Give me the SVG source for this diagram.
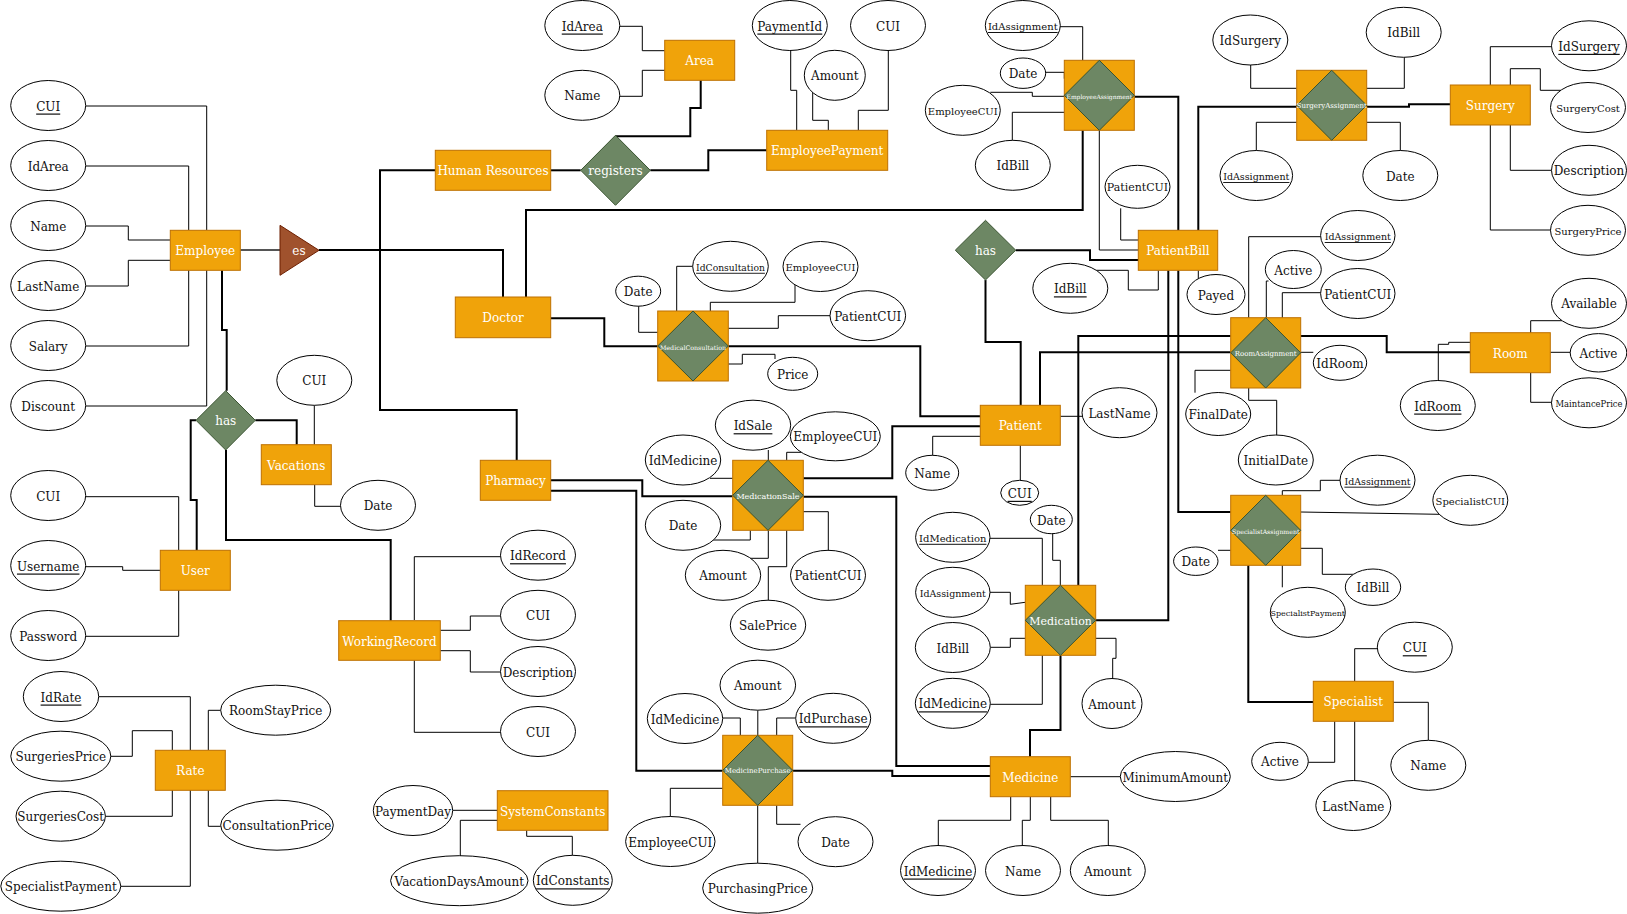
<svg xmlns="http://www.w3.org/2000/svg" width="1627" height="914" viewBox="0 0 1627 914">
<style>
  .e{fill:#fff;stroke:#000;stroke-width:1}
  .ent{fill:#f0a30a;stroke:#BD7000;stroke-width:1}
  .rel{fill:#6d8764;stroke:#3A5431;stroke-width:1}
  .isa{fill:#a0522d;stroke:#6D1F00;stroke-width:1}
  .t{font-family:"DejaVu Serif","Liberation Serif",serif;font-size:12px;text-anchor:middle;dominant-baseline:central;fill:#111;transform:translate(0px,1px)}
  .w{fill:#fff}
  .u{text-decoration:underline}
  .s11{font-size:11px}.s10{font-size:10px}.s9{font-size:9.5px}.s8{font-size:8px}.s7{font-size:7px}.s6{font-size:6px}
  .thin{fill:none;stroke:#000;stroke-width:1}
  .thick{fill:none;stroke:#000;stroke-width:2}
  .grey{fill:none;stroke:#555;stroke-width:2}
</style>
<rect width="1627" height="914" fill="#fff"/>

<g id="connectors">
  <!-- attribute links -->
  <g class="thin">
    <path d="M85.7,106 H206.7 V230"/>
    <path d="M85.7,166 H188.7 V230"/>
    <path d="M85.7,226 H128.3 V240 H170"/>
    <path d="M85.7,286 H128.3 V260.3 H170"/>
    <path d="M85.7,346 H188.7 V270"/>
    <path d="M85.7,406 H206.7 V270"/>
    <path d="M85.7,496.7 H178.7 V550"/>
    <path d="M85.7,566.7 H122.7 V570.3 H160.3"/>
    <path d="M85.7,636.3 H178.7 V590"/>
    <path d="M314.3,405.3 V444.7"/>
    <path d="M314.7,484.7 V506.3 H340.7"/>
    <path d="M500.7,556.7 H414.3 V620"/>
    <path d="M440.3,630.3 H470.3 V616 H500.7"/>
    <path d="M440.3,650.7 H470.3 V672 H500.7"/>
    <path d="M414.3,660.3 V732.3 H500.7"/>
    <path d="M98.7,696.7 H190.3 V750"/>
    <path d="M110.7,756.3 H132.3 V730.7 H172.3 V750"/>
    <path d="M105.3,816.3 H172.3 V790"/>
    <path d="M120.7,886.3 H190.3 V790"/>
    <path d="M208.3,750 V710.3 H220.7"/>
    <path d="M208.3,790 V826.3 H220.7"/>
    <path d="M452.7,810.3 H497.3"/>
    <path d="M497.3,820.3 H460.3 V856"/>
    <path d="M526.7,830.3 V836.3 H572.3 V855.3"/>
    <path d="M620,26.3 H642.3 V50.7 H664.7"/>
    <path d="M620,96.3 H642.3 V70.3 H664.7"/>
    <path d="M790.7,50.3 V90.3 H796.7 V130.3"/>
    <path d="M812.7,90 V120.3 H828.3 V130.3"/>
    <path d="M888.3,50.3 V110.3 H858.3 V130.3"/>
    <path d="M1060,26.7 H1082.7 V60.3"/>
    <path d="M1045.7,72.3 H1064.3 V78.7"/>
    <path d="M990.3,92.3 H1032.3 V96.3 H1064.3"/>
    <path d="M1012.3,140.3 V112.3 H1064.3"/>
    <path d="M638.7,306 V332.3 H657.7"/>
    <path d="M692.7,266.3 H676.7 V311"/>
    <path d="M795,285 V302.3 H710.3 V311"/>
    <path d="M830,315.7 H778.3 V328.3 H728.3"/>
    <path d="M728.3,364 H742.3 V354.3 H775 V359"/>
    <path d="M768.3,450 V460.3"/>
    <path d="M710,478.3 H732.7"/>
    <path d="M801,452.3 H786.7 V460.3"/>
    <path d="M713.3,540 H750.3 V530.3"/>
    <path d="M750,558.3 H768.3 V530.3"/>
    <path d="M803.3,511.7 H828.3 V550.7"/>
    <path d="M786.7,530.3 V566.7 H768.3 V600"/>
    <path d="M757.8,710.3 V735.3"/>
    <path d="M722.7,718 H740.3 V735.3"/>
    <path d="M795.7,718 H776.7 V735.3"/>
    <path d="M670.3,816.7 V788.3 H722.7"/>
    <path d="M757.7,805.3 V863.3"/>
    <path d="M776.7,805.3 V824.3 H800.5"/>
    <path d="M1060.3,416.3 H1082"/>
    <path d="M932.7,455.3 V436.3 H980.3"/>
    <path d="M1020.3,445.3 V480.3"/>
    <path d="M1052.7,533.7 V560.3 H1060.3 V585.3"/>
    <path d="M990,538.3 H1042.3 V585.3"/>
    <path d="M990,592.3 H1010.3 V604.3 L1025.3,602.3"/>
    <path d="M990.3,647.3 H1010.3 V638.3 H1025.3"/>
    <path d="M990.3,704.3 H1042.3 V655.3"/>
    <path d="M1112.7,678.7 V658.3 H1116 V638.3 H1095.7"/>
    <path d="M1070.3,776.7 H1120.7"/>
    <path d="M1010.7,796.7 V820.3 H938.3 V845.7"/>
    <path d="M1030.3,796.7 V820.3 H1022.3 V845.7"/>
    <path d="M1050.7,796.7 V820.3 H1108.3 V845.7"/>
    <path d="M1120.7,208.3 V240 H1138.3"/>
    <path d="M1099.3,130.3 V250 H1138.3"/>
    <path d="M1096.3,270.3 H1128.3 V290 H1158.3 V270.3"/>
    <path d="M1198.3,270.3 V278.7"/>
    <path d="M1250.7,65 V88.3 H1296.7"/>
    <path d="M1404.3,57.3 V88.3 H1366.7"/>
    <path d="M1256.3,150.7 V122.3 H1296.7"/>
    <path d="M1400.3,150.7 V122.3 H1366.7"/>
    <path d="M1490.3,85 V46.7 H1551"/>
    <path d="M1510.3,85 V68.7 H1540.3 V90.3 H1561"/>
    <path d="M1510.3,125 V170.3 H1551"/>
    <path d="M1490.3,125 V230 H1551"/>
    <path d="M1320.7,236.7 H1248.7 V318"/>
    <path d="M1268.5,281 H1266.3 V318"/>
    <path d="M1320.7,292.7 H1282.3 V318"/>
    <path d="M1300.7,352.3 H1313.3"/>
    <path d="M1195,392.7 V370.3 H1230.7"/>
    <path d="M1276.7,435 V400.3 H1248.7 V388"/>
    <path d="M1438.3,380.7 V344.3 H1448.7 V342.3 H1470.3"/>
    <path d="M1530.7,333 V320.7 H1562"/>
    <path d="M1550.3,352.3 H1570.3"/>
    <path d="M1530.7,372.7 V402.3 H1551.7"/>
    <path d="M1282.3,495.3 V490.7 H1320.3 V480.3 H1340"/>
    <path d="M1300.7,512 L1439,514.3"/>
    <path d="M1300.7,548.3 H1322.3 V574.3 H1353.5"/>
    <path d="M1218,550.3 H1230.7"/>
    <path d="M1282.3,565.3 V587.3"/>
    <path d="M1354.7,681.3 V648.7 H1377.3"/>
    <path d="M1308.3,762.3 H1334.7 V721.3"/>
    <path d="M1354.7,721.3 V780.7"/>
    <path d="M1393.3,702.3 H1428.3 V740.3"/>
  </g>
  <!-- relationship links -->
  <path class="grey" d="M240.3,250 H280"/>
  <g class="thick">
    <path d="M319,250 H503 V297"/>
    <path d="M435.3,170.3 H380 V410 H516.7 V460.3"/>
    <path d="M550.7,170.3 H580.7"/>
    <path d="M650.3,170.3 H708.3 V150.3 H766.7"/>
    <path d="M700.7,80.3 V108 H690.3 V136.3 H615.5"/>
    <path d="M222,270.3 V330 H226.7 V390.7"/>
    <path d="M255.3,420.3 H296.7 V444.7"/>
    <path d="M196,420.3 H190.7 V500 H196.7 V550.3"/>
    <path d="M226,450 V540 H390.7 V620.7"/>
    <path d="M550.7,318.3 H604.3 V346.3 H657.7"/>
    <path d="M728.3,346.3 H920.3 V416.3 H980.3"/>
    <path d="M1082.7,130.3 V210 H526 V297"/>
    <path d="M1134.3,96.7 H1178.3 V230.3"/>
    <path d="M1296.7,106.7 H1198.3 V230.3"/>
    <path d="M1366.7,106.7 H1409 V104.3 H1450.3"/>
    <path d="M1015.7,250.2 H1090 V260 H1138.3"/>
    <path d="M985.5,280 V342 H1020.7 V405.3"/>
    <path d="M1040,405.3 V352.3 H1230.7"/>
    <path d="M1078.3,585.3 V336 H1230.7"/>
    <path d="M1300.7,336 H1386.7 V352.3 H1470.3"/>
    <path d="M1178.3,270.3 V512 H1230.7"/>
    <path d="M1248.3,565.3 V702 H1313.3"/>
    <path d="M1168.3,270.3 V620.3 H1095.7"/>
    <path d="M1060.5,655.3 V730 H1030 V756.7"/>
    <path d="M550.7,480.3 H642.3 V496.3 H732.7"/>
    <path d="M803.3,496.7 H896.3 V766 H990.3"/>
    <path d="M803.3,478.3 H892.3 V426.3 H980.3"/>
    <path d="M550.7,490.7 H636.3 V770.7 H722.7"/>
    <path d="M792.7,770.7 H892.3 V776 H990.3"/>
  </g>
</g>

<!-- entities -->
<g id="employee"><rect class="ent" x="170.3" y="230.3" width="70" height="40"/><text class="t w" x="205.3" y="250.3">Employee</text></g>
<g id="human-resources"><rect class="ent" x="435.3" y="150.3" width="115.4" height="40"/><text class="t w" x="493" y="170.3">Human Resources</text></g>
<g id="area"><rect class="ent" x="664.7" y="40.3" width="70" height="40"/><text class="t w" x="699.7" y="60.3">Area</text></g>
<g id="employee-payment"><rect class="ent" x="766.7" y="130.3" width="121" height="40"/><text class="t w" x="827.2" y="150.3">EmployeePayment</text></g>
<g id="doctor"><rect class="ent" x="455.3" y="297" width="95.4" height="40.7"/><text class="t w" x="503" y="317.3">Doctor</text></g>
<g id="pharmacy"><rect class="ent" x="480.3" y="460.3" width="70.4" height="40"/><text class="t w" x="515.5" y="480.3">Pharmacy</text></g>
<g id="vacations"><rect class="ent" x="261.3" y="444.7" width="70" height="40"/><text class="t w" x="296.3" y="464.7">Vacations</text></g>
<g id="user"><rect class="ent" x="160.3" y="550.3" width="70" height="40"/><text class="t w" x="195.3" y="570.3">User</text></g>
<g id="working-record"><rect class="ent" x="338.7" y="620.7" width="101.6" height="39.6"/><text class="t w" x="389.5" y="640.5">WorkingRecord</text></g>
<g id="rate"><rect class="ent" x="155.3" y="750.3" width="70" height="40"/><text class="t w" x="190.3" y="770.3">Rate</text></g>
<g id="system-constants"><rect class="ent" x="497.3" y="790.7" width="110.7" height="39.6"/><text class="t w" x="552.7" y="810.5">SystemConstants</text></g>
<g id="patient"><rect class="ent" x="980.3" y="405.3" width="80" height="40"/><text class="t w" x="1020.3" y="425.3">Patient</text></g>
<g id="patient-bill"><rect class="ent" x="1138.3" y="230.3" width="79.4" height="40"/><text class="t w" x="1178" y="250.3">PatientBill</text></g>
<g id="surgery"><rect class="ent" x="1450.3" y="85" width="80" height="40"/><text class="t w" x="1490.3" y="105">Surgery</text></g>
<g id="room"><rect class="ent" x="1470.3" y="332.7" width="80" height="40"/><text class="t w" x="1510.3" y="352.7">Room</text></g>
<g id="medicine"><rect class="ent" x="990.3" y="756.7" width="80" height="40"/><text class="t w" x="1030.3" y="776.7">Medicine</text></g>
<g id="specialist"><rect class="ent" x="1313.3" y="681.3" width="80" height="40"/><text class="t w" x="1353.3" y="701.3">Specialist</text></g>

<!-- associative entities -->
<g id="employee-assignment"><rect class="ent" x="1064.3" y="60.3" width="70" height="70"/><polygon class="rel" points="1099.3,60.3 1134.3,95.3 1099.3,130.3 1064.3,95.3"/><text class="t w s6" x="1099.3" y="95.3">EmployeeAssignment</text></g>
<g id="surgery-assignment"><rect class="ent" x="1296.7" y="70.3" width="70" height="70"/><polygon class="rel" points="1331.7,70.3 1366.7,105.3 1331.7,140.3 1296.7,105.3"/><text class="t w s7" x="1331.7" y="105.3">SurgeryAssignment</text></g>
<g id="medical-consultation"><rect class="ent" x="657.7" y="311" width="70.6" height="70"/><polygon class="rel" points="693,311 728.3,346 693,381 657.7,346"/><text class="t w" style="font-size:6.3px" x="693" y="346">MedicalConsultation</text></g>
<g id="medication-sale"><rect class="ent" x="732.7" y="460.3" width="70.6" height="70"/><polygon class="rel" points="768,460.3 803.3,495.3 768,530.3 732.7,495.3"/><text class="t w s8" x="768" y="495.3">MedicationSale</text></g>
<g id="room-assignment"><rect class="ent" x="1230.7" y="317.7" width="70" height="70.3"/><polygon class="rel" points="1265.7,317.7 1300.7,352.8 1265.7,388 1230.7,352.8"/><text class="t w s7" x="1265.7" y="352.8">RoomAssignment</text></g>
<g id="specialist-assignment"><rect class="ent" x="1230.7" y="495.3" width="70" height="70"/><polygon class="rel" points="1265.7,495.3 1300.7,530.3 1265.7,565.3 1230.7,530.3"/><text class="t w" style="font-size:6.2px" x="1265.7" y="530.3">SpecialistAssignment</text></g>
<g id="medication"><rect class="ent" x="1025.3" y="585.3" width="70.4" height="70"/><polygon class="rel" points="1060.5,585.3 1095.7,620.3 1060.5,655.3 1025.3,620.3"/><text class="t w s11" x="1060.5" y="620.3">Medication</text></g>
<g id="medicine-purchase"><rect class="ent" x="722.7" y="735.3" width="70" height="70"/><polygon class="rel" points="757.7,735.3 792.7,770.3 757.7,805.3 722.7,770.3"/><text class="t w s7" x="757.7" y="770.3">MedicinePurchase</text></g>

<!-- relationships -->
<g id="es"><polygon class="isa" points="280,225.3 280,275.3 319,250.3"/><text class="t w" x="299" y="250.3">es</text></g>
<g id="registers"><polygon class="rel" points="615.5,135.3 650.3,170.3 615.5,205.3 580.7,170.3"/><text class="t w" x="615.5" y="170.3">registers</text></g>
<g id="has-vacations"><polygon class="rel" points="225.7,390.7 255.3,420.3 225.7,450 196,420.3"/><text class="t w" x="225.7" y="420.3">has</text></g>
<g id="has-bill"><polygon class="rel" points="985.5,220.3 1015.7,250.2 985.5,280 955.3,250.2"/><text class="t w" x="985.5" y="250.2">has</text></g>

<!-- employee attributes -->
<g id="emp-cui"><ellipse class="e" cx="48.2" cy="105.5" rx="37.5" ry="25"/><text class="t u" x="48.2" y="105.5">CUI</text></g>
<g id="emp-idarea"><ellipse class="e" cx="48.2" cy="165.5" rx="37.5" ry="25"/><text class="t" x="48.2" y="165.5">IdArea</text></g>
<g id="emp-name"><ellipse class="e" cx="48.2" cy="225.5" rx="37.5" ry="25"/><text class="t" x="48.2" y="225.5">Name</text></g>
<g id="emp-lastname"><ellipse class="e" cx="48.2" cy="285.5" rx="37.5" ry="25"/><text class="t" x="48.2" y="285.5">LastName</text></g>
<g id="emp-salary"><ellipse class="e" cx="48.2" cy="345.5" rx="37.5" ry="25"/><text class="t" x="48.2" y="345.5">Salary</text></g>
<g id="emp-discount"><ellipse class="e" cx="48.2" cy="405.5" rx="37.5" ry="25"/><text class="t" x="48.2" y="405.5">Discount</text></g>

<!-- user attributes -->
<g id="user-cui"><ellipse class="e" cx="48.2" cy="495.5" rx="37.5" ry="25"/><text class="t" x="48.2" y="495.5">CUI</text></g>
<g id="user-username"><ellipse class="e" cx="48.2" cy="565.5" rx="37.5" ry="25"/><text class="t u" x="48.2" y="565.5">Username</text></g>
<g id="user-password"><ellipse class="e" cx="48.2" cy="635.5" rx="37.5" ry="25"/><text class="t" x="48.2" y="635.5">Password</text></g>

<!-- rate attributes -->
<g id="rate-id"><ellipse class="e" cx="61" cy="696.5" rx="37.7" ry="25"/><text class="t u" x="61" y="696.5">IdRate</text></g>
<g id="rate-surgeries-price"><ellipse class="e" cx="60.8" cy="756.2" rx="50" ry="25"/><text class="t" x="60.8" y="756.2">SurgeriesPrice</text></g>
<g id="rate-surgeries-cost"><ellipse class="e" cx="60.7" cy="816.2" rx="44.7" ry="25"/><text class="t" x="60.7" y="816.2">SurgeriesCost</text></g>
<g id="rate-specialist-payment"><ellipse class="e" cx="60.8" cy="886.2" rx="60" ry="25"/><text class="t" x="60.8" y="886.2">SpecialistPayment</text></g>
<g id="rate-room-stay"><ellipse class="e" cx="275.7" cy="710.2" rx="55" ry="25"/><text class="t" x="275.7" y="710.2">RoomStayPrice</text></g>
<g id="rate-consultation"><ellipse class="e" cx="277" cy="825.2" rx="56.3" ry="25"/><text class="t" x="277" y="825.2">ConsultationPrice</text></g>

<!-- vacations attributes -->
<g id="vac-cui"><ellipse class="e" cx="314.3" cy="380.3" rx="37.5" ry="25"/><text class="t" x="314.3" y="380.3">CUI</text></g>
<g id="vac-date"><ellipse class="e" cx="378" cy="505.3" rx="37.5" ry="25"/><text class="t" x="378" y="505.3">Date</text></g>

<!-- working record attributes -->
<g id="wr-id"><ellipse class="e" cx="538" cy="555.2" rx="37.5" ry="25"/><text class="t u" x="538" y="555.2">IdRecord</text></g>
<g id="wr-cui1"><ellipse class="e" cx="538" cy="615.3" rx="37.5" ry="25"/><text class="t" x="538" y="615.3">CUI</text></g>
<g id="wr-description"><ellipse class="e" cx="538" cy="671.5" rx="37.5" ry="25"/><text class="t" x="538" y="671.5">Description</text></g>
<g id="wr-cui2"><ellipse class="e" cx="538" cy="731.5" rx="37.5" ry="25"/><text class="t" x="538" y="731.5">CUI</text></g>

<!-- system constants attributes -->
<g id="sc-payment-day"><ellipse class="e" cx="413" cy="810.5" rx="39.7" ry="25"/><text class="t" x="413" y="810.5">PaymentDay</text></g>
<g id="sc-vacation-days"><ellipse class="e" cx="459.3" cy="880.7" rx="68.7" ry="25"/><text class="t" x="459.3" y="880.7">VacationDaysAmount</text></g>
<g id="sc-id"><ellipse class="e" cx="572.8" cy="880.3" rx="39.5" ry="25"/><text class="t u" x="572.8" y="880.3">IdConstants</text></g>

<!-- area attributes -->
<g id="area-id"><ellipse class="e" cx="582.3" cy="25.5" rx="37.5" ry="25"/><text class="t u" x="582.3" y="25.5">IdArea</text></g>
<g id="area-name"><ellipse class="e" cx="582.3" cy="95.3" rx="37.5" ry="25"/><text class="t" x="582.3" y="95.3">Name</text></g>

<!-- employee payment attributes -->
<g id="ep-id"><ellipse class="e" cx="789.8" cy="25.5" rx="37.5" ry="25"/><text class="t u" x="789.8" y="25.5">PaymentId</text></g>
<g id="ep-amount"><ellipse class="e" cx="834.8" cy="75.3" rx="30.5" ry="25"/><text class="t" x="834.8" y="75.3">Amount</text></g>
<g id="ep-cui"><ellipse class="e" cx="888" cy="25.5" rx="37.5" ry="25"/><text class="t" x="888" y="25.5">CUI</text></g>

<!-- employee assignment attributes -->
<g id="ea-id"><ellipse class="e" cx="1022.8" cy="25.5" rx="37.5" ry="25"/><text class="t u s10" x="1022.8" y="25.5">IdAssignment</text></g>
<g id="ea-date"><ellipse class="e" cx="1023" cy="73.2" rx="22.7" ry="15.2"/><text class="t" x="1023" y="73.2">Date</text></g>
<g id="ea-employee-cui"><ellipse class="e" cx="962.8" cy="110.3" rx="37.5" ry="25"/><text class="t s10" x="962.8" y="110.3">EmployeeCUI</text></g>
<g id="ea-bill"><ellipse class="e" cx="1012.8" cy="165.3" rx="37.5" ry="25"/><text class="t" x="1012.8" y="165.3">IdBill</text></g>

<!-- medical consultation attributes -->
<g id="mc-date"><ellipse class="e" cx="638.2" cy="291.2" rx="22.5" ry="15"/><text class="t" x="638.2" y="291.2">Date</text></g>
<g id="mc-id"><ellipse class="e" cx="730.5" cy="266.3" rx="37.8" ry="25"/><text class="t u" style="font-size:9.2px" x="730.5" y="266.3">IdConsultation</text></g>
<g id="mc-employee-cui"><ellipse class="e" cx="820.5" cy="266.5" rx="37.5" ry="25"/><text class="t s10" x="820.5" y="266.5">EmployeeCUI</text></g>
<g id="mc-patient-cui"><ellipse class="e" cx="867.8" cy="315.7" rx="37.8" ry="25"/><text class="t" x="867.8" y="315.7">PatientCUI</text></g>
<g id="mc-price"><ellipse class="e" cx="792.7" cy="373.8" rx="25" ry="16.5"/><text class="t" x="792.7" y="373.8">Price</text></g>

<!-- medication sale attributes -->
<g id="ms-id"><ellipse class="e" cx="753" cy="425.2" rx="37.7" ry="25"/><text class="t u" x="753" y="425.2">IdSale</text></g>
<g id="ms-medicine"><ellipse class="e" cx="683" cy="460" rx="37.7" ry="25"/><text class="t" x="683" y="460">IdMedicine</text></g>
<g id="ms-employee-cui"><ellipse class="e" cx="835.3" cy="436.3" rx="45" ry="24.5"/><text class="t" x="835.3" y="436.3">EmployeeCUI</text></g>
<g id="ms-date"><ellipse class="e" cx="683" cy="525.3" rx="37.7" ry="25"/><text class="t" x="683" y="525.3">Date</text></g>
<g id="ms-amount"><ellipse class="e" cx="723" cy="575.3" rx="37.7" ry="25"/><text class="t" x="723" y="575.3">Amount</text></g>
<g id="ms-patient-cui"><ellipse class="e" cx="828" cy="575.3" rx="37.5" ry="25"/><text class="t" x="828" y="575.3">PatientCUI</text></g>
<g id="ms-sale-price"><ellipse class="e" cx="768" cy="625.2" rx="37.7" ry="25"/><text class="t" x="768" y="625.2">SalePrice</text></g>

<!-- medicine purchase attributes -->
<g id="mp-amount"><ellipse class="e" cx="757.8" cy="685.2" rx="37.8" ry="25"/><text class="t" x="757.8" y="685.2">Amount</text></g>
<g id="mp-medicine"><ellipse class="e" cx="685" cy="718.5" rx="37.7" ry="25"/><text class="t" x="685" y="718.5">IdMedicine</text></g>
<g id="mp-id"><ellipse class="e" cx="833.2" cy="718.3" rx="37.5" ry="25"/><text class="t u" x="833.2" y="718.3">IdPurchase</text></g>
<g id="mp-employee-cui"><ellipse class="e" cx="670.3" cy="841.5" rx="44.7" ry="25"/><text class="t" x="670.3" y="841.5">EmployeeCUI</text></g>
<g id="mp-purchasing-price"><ellipse class="e" cx="757.7" cy="888.2" rx="55" ry="25"/><text class="t" x="757.7" y="888.2">PurchasingPrice</text></g>
<g id="mp-date"><ellipse class="e" cx="835.5" cy="841.7" rx="37.5" ry="25"/><text class="t" x="835.5" y="841.7">Date</text></g>

<!-- patient attributes -->
<g id="patient-lastname"><ellipse class="e" cx="1119.5" cy="412.7" rx="37.5" ry="25"/><text class="t" x="1119.5" y="412.7">LastName</text></g>
<g id="patient-name"><ellipse class="e" cx="932.2" cy="472.8" rx="26.5" ry="17.5"/><text class="t" x="932.2" y="472.8">Name</text></g>
<g id="patient-cui"><ellipse class="e" cx="1019.7" cy="492.8" rx="19" ry="12.5"/><text class="t u" x="1019.7" y="492.8">CUI</text></g>

<!-- medication attributes -->
<g id="med-date"><ellipse class="e" cx="1051.3" cy="519.5" rx="21" ry="14.2"/><text class="t" x="1051.3" y="519.5">Date</text></g>
<g id="med-id"><ellipse class="e" cx="952.8" cy="537.3" rx="37.2" ry="25"/><text class="t u s10" x="952.8" y="537.3">IdMedication</text></g>
<g id="med-assignment"><ellipse class="e" cx="952.8" cy="592.3" rx="37.2" ry="25"/><text class="t s9" x="952.8" y="592.3">IdAssignment</text></g>
<g id="med-bill"><ellipse class="e" cx="952.8" cy="647.5" rx="37.5" ry="25"/><text class="t" x="952.8" y="647.5">IdBill</text></g>
<g id="med-medicine"><ellipse class="e" cx="952.8" cy="703.3" rx="37.5" ry="25"/><text class="t u" x="952.8" y="703.3">IdMedicine</text></g>
<g id="med-amount"><ellipse class="e" cx="1112" cy="703.5" rx="30" ry="25"/><text class="t" x="1112" y="703.5">Amount</text></g>

<!-- medicine attributes -->
<g id="medicine-minimum"><ellipse class="e" cx="1175.3" cy="776.5" rx="55" ry="25"/><text class="t" x="1175.3" y="776.5">MinimumAmount</text></g>
<g id="medicine-id"><ellipse class="e" cx="938" cy="870.5" rx="37.5" ry="25"/><text class="t u" x="938" y="870.5">IdMedicine</text></g>
<g id="medicine-name"><ellipse class="e" cx="1023" cy="870.5" rx="37.5" ry="25"/><text class="t" x="1023" y="870.5">Name</text></g>
<g id="medicine-amount"><ellipse class="e" cx="1107.8" cy="870.5" rx="37.5" ry="25"/><text class="t" x="1107.8" y="870.5">Amount</text></g>

<!-- patient bill attributes -->
<g id="pb-patient-cui"><ellipse class="e" cx="1137.5" cy="186.8" rx="32.5" ry="21.5"/><text class="t s11" x="1137.5" y="186.8">PatientCUI</text></g>
<g id="pb-id"><ellipse class="e" cx="1070.3" cy="288.3" rx="37.5" ry="25"/><text class="t u" x="1070.3" y="288.3">IdBill</text></g>
<g id="pb-payed"><ellipse class="e" cx="1216" cy="294.5" rx="29" ry="20"/><text class="t" x="1216" y="294.5">Payed</text></g>

<!-- surgery assignment attributes -->
<g id="sa-surgery"><ellipse class="e" cx="1250.3" cy="40" rx="37.5" ry="25"/><text class="t" x="1250.3" y="40">IdSurgery</text></g>
<g id="sa-bill"><ellipse class="e" cx="1403.7" cy="32.3" rx="37.5" ry="25"/><text class="t" x="1403.7" y="32.3">IdBill</text></g>
<g id="sa-id"><ellipse class="e" cx="1256.3" cy="175.5" rx="36.3" ry="25"/><text class="t u s9" x="1256.3" y="175.5">IdAssignment</text></g>
<g id="sa-date"><ellipse class="e" cx="1400.3" cy="175.5" rx="37.5" ry="25"/><text class="t" x="1400.3" y="175.5">Date</text></g>

<!-- surgery attributes -->
<g id="surgery-id"><ellipse class="e" cx="1589" cy="45.8" rx="37.5" ry="25"/><text class="t u" x="1589" y="45.8">IdSurgery</text></g>
<g id="surgery-cost"><ellipse class="e" cx="1588" cy="107.5" rx="37.5" ry="25"/><text class="t s10" x="1588" y="107.5">SurgeryCost</text></g>
<g id="surgery-description"><ellipse class="e" cx="1589" cy="170.3" rx="37.5" ry="25"/><text class="t" x="1589" y="170.3">Description</text></g>
<g id="surgery-price"><ellipse class="e" cx="1588" cy="230.3" rx="37.5" ry="25"/><text class="t s10" x="1588" y="230.3">SurgeryPrice</text></g>

<!-- room assignment attributes -->
<g id="ra-id"><ellipse class="e" cx="1357.8" cy="235.5" rx="37.2" ry="25"/><text class="t u s9" x="1357.8" y="235.5">IdAssignment</text></g>
<g id="ra-active"><ellipse class="e" cx="1293.3" cy="269.5" rx="28" ry="19"/><text class="t" x="1293.3" y="269.5">Active</text></g>
<g id="ra-patient-cui"><ellipse class="e" cx="1357.8" cy="293.5" rx="37.2" ry="25"/><text class="t" x="1357.8" y="293.5">PatientCUI</text></g>
<g id="ra-room"><ellipse class="e" cx="1340" cy="362.8" rx="26.7" ry="17.5"/><text class="t" x="1340" y="362.8">IdRoom</text></g>
<g id="ra-final-date"><ellipse class="e" cx="1218.2" cy="414" rx="32.5" ry="21.5"/><text class="t" x="1218.2" y="414">FinalDate</text></g>
<g id="ra-initial-date"><ellipse class="e" cx="1275.8" cy="460" rx="37.5" ry="25"/><text class="t" x="1275.8" y="460">InitialDate</text></g>

<!-- room attributes -->
<g id="room-available"><ellipse class="e" cx="1589" cy="303.3" rx="37.5" ry="25"/><text class="t" x="1589" y="303.3">Available</text></g>
<g id="room-active"><ellipse class="e" cx="1598.5" cy="352.8" rx="28.3" ry="19.2"/><text class="t" x="1598.5" y="352.8">Active</text></g>
<g id="room-maintance"><ellipse class="e" cx="1589" cy="402.8" rx="37.5" ry="25"/><text class="t" style="font-size:8.4px" x="1589" y="402.8">MaintancePrice</text></g>
<g id="room-id"><ellipse class="e" cx="1437.8" cy="405.5" rx="37.5" ry="25"/><text class="t u" x="1437.8" y="405.5">IdRoom</text></g>

<!-- specialist assignment attributes -->
<g id="spa-id"><ellipse class="e" cx="1377.5" cy="480.2" rx="37.5" ry="25"/><text class="t u s9" x="1377.5" y="480.2">IdAssignment</text></g>
<g id="spa-specialist-cui"><ellipse class="e" cx="1470.3" cy="500.3" rx="37.5" ry="25"/><text class="t s10" x="1470.3" y="500.3">SpecialistCUI</text></g>
<g id="spa-bill"><ellipse class="e" cx="1373" cy="587.2" rx="27.7" ry="18.2"/><text class="t" x="1373" y="587.2">IdBill</text></g>
<g id="spa-date"><ellipse class="e" cx="1195.8" cy="561.2" rx="22.2" ry="14.2"/><text class="t" x="1195.8" y="561.2">Date</text></g>
<g id="spa-payment"><ellipse class="e" cx="1307.8" cy="612.3" rx="37.5" ry="25"/><text class="t s8" x="1307.8" y="612.3">SpecialistPayment</text></g>

<!-- specialist attributes -->
<g id="specialist-cui"><ellipse class="e" cx="1414.8" cy="647.2" rx="37.5" ry="25"/><text class="t u" x="1414.8" y="647.2">CUI</text></g>
<g id="specialist-active"><ellipse class="e" cx="1280" cy="761.3" rx="28.3" ry="19"/><text class="t" x="1280" y="761.3">Active</text></g>
<g id="specialist-lastname"><ellipse class="e" cx="1353.3" cy="805.5" rx="37.5" ry="25"/><text class="t" x="1353.3" y="805.5">LastName</text></g>
<g id="specialist-name"><ellipse class="e" cx="1428.3" cy="765.3" rx="37.5" ry="25"/><text class="t" x="1428.3" y="765.3">Name</text></g>
</svg>
